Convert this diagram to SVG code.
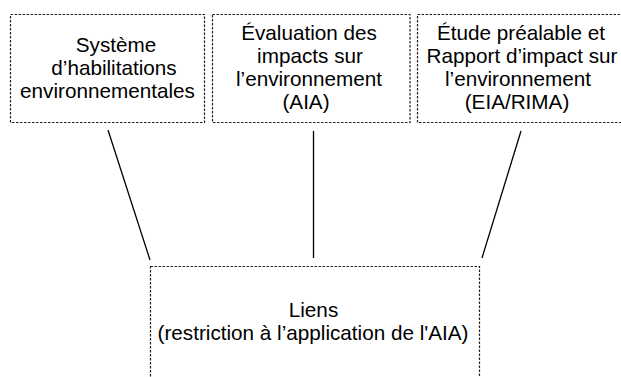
<svg xmlns="http://www.w3.org/2000/svg" width="621" height="377" viewBox="0 0 621 377">
<style>
.box{fill:#ffffff;stroke:#222222;stroke-width:1.2;stroke-dasharray:2.5 1.5}
.lbl{font-family:"Liberation Sans",Arial,Helvetica,sans-serif;font-size:20.7px;fill:#000000;text-anchor:middle}
.conn{stroke:#000000;stroke-width:1.3;fill:none}
</style>
<rect width="621" height="377" fill="#ffffff"/>
<g id="connectors">
<line class="conn" x1="108" y1="130" x2="150" y2="260"/>
<line class="conn" x1="313.5" y1="131" x2="313.5" y2="258"/>
<line class="conn" x1="521" y1="131" x2="482" y2="258"/>
</g>
<g id="node-habilitations">
<rect class="box" x="10.5" y="14.5" width="194" height="108"/>
<text class="lbl"><tspan x="116" y="52">Système</tspan><tspan x="114" y="75">d’habilitations</tspan><tspan x="107.5" y="98">environnementales</tspan></text>
</g>
<g id="node-aia">
<rect class="box" x="212.5" y="14.5" width="197.5" height="108"/>
<text class="lbl"><tspan x="309" y="40">Évaluation des</tspan><tspan x="310" y="63">impacts sur</tspan><tspan x="309" y="86">l’environnement</tspan><tspan x="306" y="109">(AIA)</tspan></text>
</g>
<g id="node-eia">
<rect class="box" x="417.5" y="14.5" width="210" height="108"/>
<text class="lbl"><tspan x="521" y="40">Étude préalable et</tspan><tspan x="522" y="63">Rapport d’impact sur</tspan><tspan x="518" y="86">l’environnement</tspan><tspan x="517" y="109">(EIA/RIMA)</tspan></text>
</g>
<g id="node-liens">
<rect class="box" x="150.5" y="266.5" width="329" height="140"/>
<text class="lbl"><tspan x="313.5" y="317">Liens</tspan><tspan x="313" y="340">(restriction à l’application de l'AIA)</tspan></text>
</g>
</svg>
